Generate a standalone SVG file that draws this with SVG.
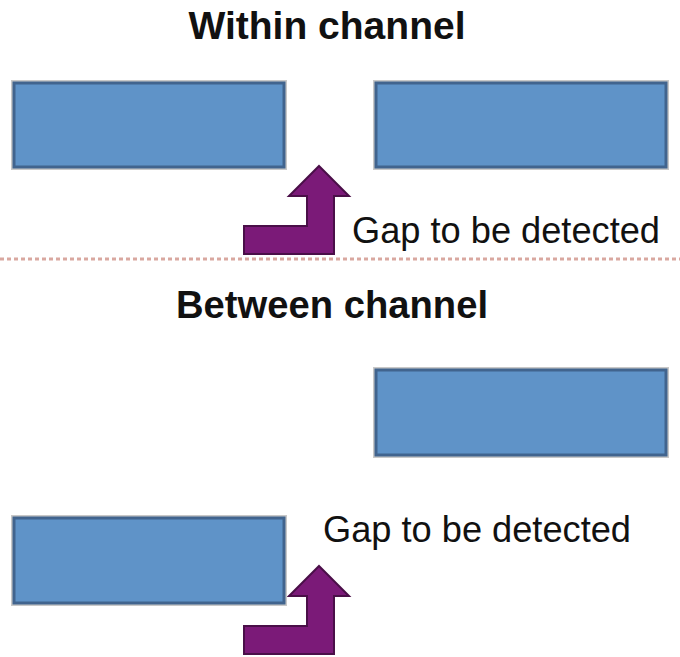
<svg xmlns="http://www.w3.org/2000/svg" width="680" height="657" viewBox="0 0 680 657">
  <style>
    .title { font-family: "Liberation Sans", Arial, sans-serif; font-weight: bold; font-size: 38px; fill: #111; text-anchor: middle; }
    .label { font-family: "Liberation Sans", Arial, sans-serif; font-size: 36px; fill: #111; }
    .block { fill: #5f93c8; stroke: #41648e; stroke-width: 3; }
    .shade { fill: none; stroke: #c8c8c8; stroke-width: 2; }
    .pointer { fill: #7b1a78; stroke: #4a0f48; stroke-width: 2; stroke-linejoin: miter; }
    .divider { stroke: #d9a8a0; stroke-width: 3; stroke-dasharray: 4 3; }
  </style>
  <defs>
    <!-- bent up-arrow, tip at origin -->
    <path id="bentArrow" d="M0,0 L30,30 L15,30 L15,88 L-75,88 L-75,60 L-12,60 L-12,30 L-30,30 Z"/>
  </defs>
  <rect width="680" height="657" fill="#fff"/>

  <text class="title" x="327" y="39" textLength="277" lengthAdjust="spacingAndGlyphs">Within channel</text>

  <g id="within-left">
    <rect class="shade" x="12" y="81" width="274" height="88"/>
    <rect class="block" x="14" y="83" width="270" height="84"/>
  </g>
  <g id="within-right">
    <rect class="shade" x="374" y="81" width="294" height="88"/>
    <rect class="block" x="376" y="83" width="290" height="84"/>
  </g>

  <g id="connectors">
    <use href="#bentArrow" class="pointer" x="319" y="166"/>
    <use href="#bentArrow" class="pointer" x="319" y="566"/>
  </g>

  <text class="label" x="352" y="243" textLength="308" lengthAdjust="spacingAndGlyphs">Gap to be detected</text>

  <line class="divider" x1="0" y1="259" x2="680" y2="259"/>

  <text class="title" x="332" y="318" textLength="312" lengthAdjust="spacingAndGlyphs">Between channel</text>

  <g id="between-right">
    <rect class="shade" x="374" y="368" width="294" height="89"/>
    <rect class="block" x="376" y="370" width="290" height="85"/>
  </g>
  <g id="between-left">
    <rect class="shade" x="12" y="516" width="274" height="89"/>
    <rect class="block" x="14" y="518" width="270" height="85"/>
  </g>

  <text class="label" x="323" y="542" textLength="308" lengthAdjust="spacingAndGlyphs">Gap to be detected</text>
</svg>
